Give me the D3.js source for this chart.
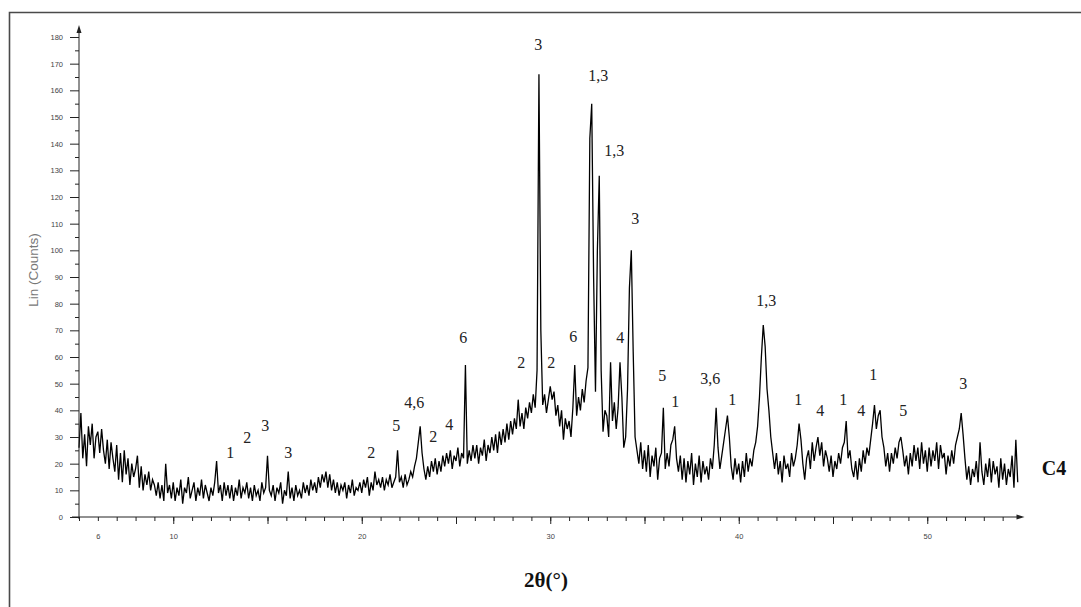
<!DOCTYPE html>
<html>
<head>
<meta charset="utf-8">
<script src="https://cdn.jsdelivr.net/npm/d3@7"></script>
<style>
  body { margin: 0; background: #fff; }
  svg { display: block; }
</style>
</head>
<body>
<svg id="main"></svg>
<script>
// diffractogram C4, 2theta from 5.0 step 0.1
const startAngle = 5.0;
const angleStep = 0.1;
const counts = [
  26,39,22,31,19,34,27,35,22,30,   // 5
  32,24,33,25,20,29,18,28,22,17,   // 6
  27,14,24,13,25,16,22,12,20,15,   // 7
  18,23,11,19,10,16,12,17,10,14,   // 8
  12,8,13,7,12,6,20,9,12,7,        // 9
  13,6,11,8,14,5,11,9,15,7,        // 10
  10,13,6,11,8,14,7,12,9,6,        // 11
  11,8,13,21,9,12,6,13,8,12,       // 12
  7,12,6,11,8,14,7,11,9,13,        // 13
  7,11,6,12,8,10,6,13,9,11,        // 14
  23,10,8,12,6,11,9,13,5,10,       // 15
  8,17,7,11,6,12,8,10,7,13,        // 16
  9,12,8,14,10,13,9,15,11,16,      // 17
  13,17,11,16,10,14,9,13,8,12,     // 18
  10,13,7,12,9,14,8,11,10,13,      // 19
  9,14,11,15,8,13,10,17,12,14,     // 20
  11,15,10,14,12,16,11,13,15,25,   // 21
  13,15,11,16,12,14,17,15,19,22,   // 22
  28,34,24,18,14,19,15,21,17,22,   // 23
  16,21,17,23,19,24,20,25,18,23,   // 24
  21,26,19,24,22,57,20,25,21,27,   // 25
  22,27,20,26,23,29,21,27,24,30,   // 26
  25,31,24,32,27,33,28,35,29,36,   // 27
  31,37,33,44,34,39,33,41,37,43,   // 28
  39,46,41,55,166,70,42,46,39,44,  // 29
  49,44,47,38,42,34,40,29,37,33,   // 30
  36,30,41,57,38,45,40,48,43,51,   // 31
  56,142,155,90,47,100,128,55,32,40, // 32
  38,30,58,36,43,33,41,58,45,26,   // 33
  30,48,86,100,62,30,25,20,28,18,  // 34
  25,17,27,15,23,19,26,14,22,24,   // 35
  41,18,24,19,27,29,34,22,17,23,   // 36
  14,22,13,21,16,24,12,20,15,23,   // 37
  13,21,16,19,14,22,18,27,41,26,   // 38
  18,23,28,33,38,30,19,14,22,16,   // 39
  20,13,21,15,24,17,22,19,25,28,   // 40
  34,45,60,72,64,48,40,30,24,18,   // 41
  24,16,21,13,23,18,20,15,24,19,   // 42
  22,27,35,29,20,14,22,25,18,28,   // 43
  21,26,30,23,28,19,25,22,17,23,   // 44
  15,21,18,24,20,26,28,36,22,25,   // 45
  18,15,21,14,22,17,25,20,26,23,   // 46
  29,35,42,33,38,40,30,26,19,24,   // 47
  17,24,20,26,22,28,30,25,19,23,   // 48
  16,24,19,27,21,26,18,28,20,25,   // 49
  17,26,19,25,21,28,18,27,22,24,   // 50
  16,23,19,25,20,27,30,33,39,31,   // 51
  22,14,19,12,18,15,21,13,28,17,   // 52
  12,20,15,22,13,21,16,19,11,22,   // 53
  14,20,12,18,15,23,11,29,13       // 54
];

// peak labels (phase numbers) and where they sit
const peakLabels = ['1','2','3','3','2','5','4,6','2','4','6','2','2','6','4','5','1','3,6','1','1,3','1','4','1','4','1','5','3','3','1,3','1,3','3'];
const peakAngles = [13.02,13.93,14.88,16.10,20.50,21.83,22.79,23.79,24.64,25.38,28.46,30.05,31.22,33.71,35.94,36.63,38.49,39.66,41.46,43.16,44.32,45.54,46.50,47.14,48.73,51.91,29.36,32.55,33.40,34.51];
const peakCounts = [24.4,30.0,34.5,24.4,24.4,34.5,43.1,30.4,34.9,67.5,58.1,58.1,67.9,67.5,53.2,43.5,52.1,44.2,81.4,44.2,40.1,44.2,40.1,53.6,40.1,50.2,177.3,165.7,137.6,112.1];

const yTicks = d3.range(0, 181, 10);
const yMinor = d3.range(5, 180, 10);
const xLabelTicks = [6, 10, 20, 30, 40, 50];
const xMajor = d3.range(10, 51, 5);
const xMinor = d3.range(5, 55, 1);

const width = 1081, height = 607;

const svg = d3.select('#main')
  .attr('width', width)
  .attr('height', height);

const x = d3.scaleLinear()
  .domain([5, 55])
  .range([79, 1021.5]);

const y = d3.scaleLinear()
  .domain([0, 180])
  .range([517, 37]);

// frame (only left and top show)
svg.append('path')
  .attr('d', `M9.5,${height} L9.5,12.5 L${width},12.5`)
  .attr('fill', 'none')
  .attr('stroke', '#4a4a4a')
  .attr('stroke-width', 1.6);

const data = counts.map((c, i) => ({ a: startAngle + i * angleStep, c: c }));

svg.append('path')
  .datum(data)
  .attr('d', d3.line().x(d => x(d.a)).y(d => y(d.c)))
  .attr('fill', 'none')
  .attr('stroke', '#000')
  .attr('stroke-width', 1.3)
  .attr('stroke-linejoin', 'miter');

// y axis
const yAxis = svg.append('g')
  .attr('transform', `translate(${x(5)},0)`)
  .call(d3.axisLeft(y).tickValues(yTicks).tickSize(9).tickPadding(7).tickFormat(d3.format('d')));
yAxis.select('.domain')
  .attr('d', `M0,${y(0) + 2}V28`)
  .attr('stroke', '#222');
yAxis.selectAll('.tick line').attr('stroke', '#222');
yAxis.selectAll('.tick text')
  .attr('fill', '#444')
  .attr('font-family', 'Arial, "Liberation Sans", sans-serif')
  .attr('font-size', '7.5px');

svg.append('g')
  .attr('transform', `translate(${x(5)},0)`)
  .call(d3.axisLeft(y).tickValues(yMinor).tickSize(4).tickFormat(''))
  .call(g => g.select('.domain').remove())
  .selectAll('.tick line').attr('stroke', '#222');

svg.append('path')
  .attr('d', `M${x(5)},25 L${x(5) - 2.5},33 L${x(5) + 2.5},33 Z`)
  .attr('fill', '#222');

// x axis
const xAxis = svg.append('g')
  .attr('transform', `translate(0,${y(0)})`)
  .call(d3.axisBottom(x).tickValues(xMajor).tickSize(7).tickFormat(''));
xAxis.select('.domain')
  .attr('d', `M72,0H${x(55)}`)
  .attr('stroke', '#222');
xAxis.selectAll('.tick line').attr('stroke', '#222');

svg.append('g')
  .attr('transform', `translate(0,${y(0)})`)
  .call(d3.axisBottom(x).tickValues(xMinor).tickSize(4).tickFormat(''))
  .call(g => g.select('.domain').remove())
  .selectAll('.tick line').attr('stroke', '#222');

svg.append('g')
  .attr('transform', `translate(0,${y(0)})`)
  .call(d3.axisBottom(x).tickValues(xLabelTicks).tickSize(0).tickPadding(17).tickFormat(d3.format('d')))
  .call(g => g.select('.domain').remove())
  .selectAll('.tick text')
  .attr('fill', '#444')
  .attr('font-family', 'Arial, "Liberation Sans", sans-serif')
  .attr('font-size', '7.5px');

svg.append('path')
  .attr('d', `M${x(55) + 3},${y(0)} L${x(55) - 5},${y(0) - 2.5} L${x(55) - 5},${y(0) + 2.5} Z`)
  .attr('fill', '#222');

// axis titles
svg.append('text')
  .text('Lin (Counts)')
  .attr('transform', `translate(38,${270}) rotate(-90)`)
  .attr('text-anchor', 'middle')
  .attr('fill', '#777')
  .attr('font-family', 'Arial, "Liberation Sans", sans-serif')
  .attr('font-size', '13.5px');

svg.append('text')
  .text('2θ(°)')
  .attr('x', 546)
  .attr('y', 587)
  .attr('text-anchor', 'middle')
  .attr('fill', '#111')
  .attr('font-family', '"Liberation Serif", "Times New Roman", serif')
  .attr('font-weight', 'bold')
  .attr('font-size', '21px');

svg.append('text')
  .text('C4')
  .attr('x', 1054)
  .attr('y', 475)
  .attr('text-anchor', 'middle')
  .attr('fill', '#111')
  .attr('font-family', '"Liberation Serif", "Times New Roman", serif')
  .attr('font-weight', 'bold')
  .attr('font-size', '20px');

// peak labels
svg.selectAll('.peak-label')
  .data(peakLabels)
  .enter()
  .append('text')
  .attr('class', 'peak-label')
  .text(d => d)
  .attr('x', (d, i) => x(peakAngles[i]))
  .attr('y', (d, i) => y(peakCounts[i]))
  .attr('dy', '0.35em')
  .attr('text-anchor', 'middle')
  .attr('fill', '#222')
  .attr('font-family', '"Liberation Serif", "Times New Roman", serif')
  .attr('font-size', '16px');
</script>
</body>
</html>
